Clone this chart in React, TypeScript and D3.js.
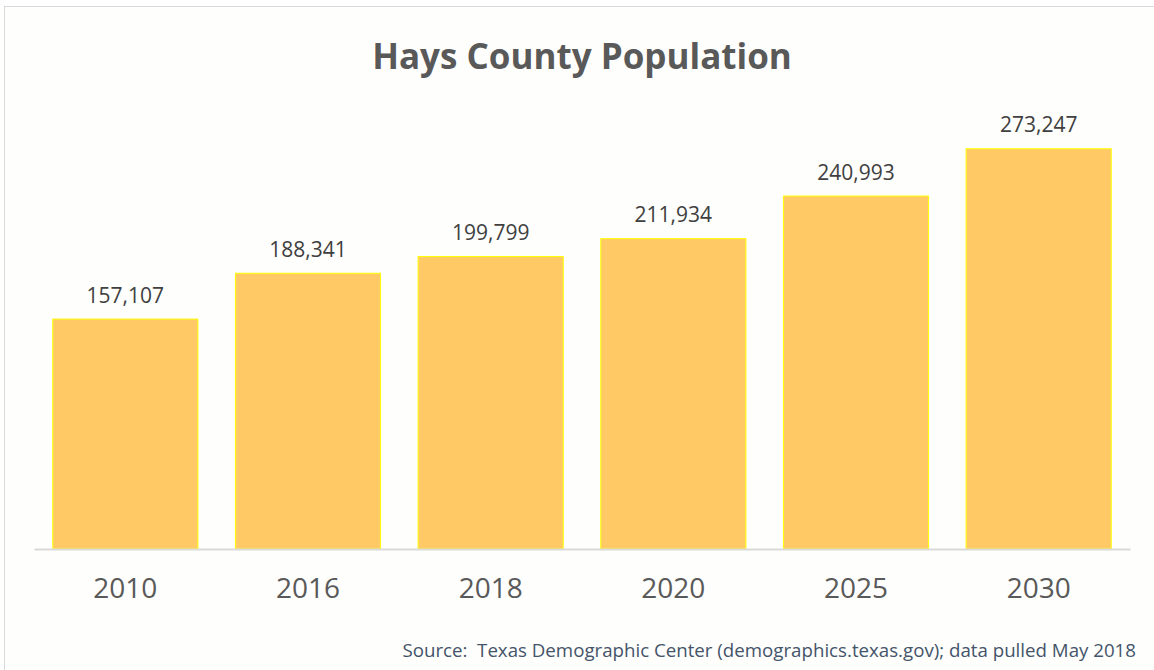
import React, { useRef, useEffect } from 'react';
import * as d3 from 'd3';

const years: string[] = ['2010', '2016', '2018', '2020', '2025', '2030'];
const population: number[] = [157107, 188341, 199799, 211934, 240993, 273247];

const FONT = "'Open Sans', 'DejaVu Sans', sans-serif";

const App: React.FC = () => {
    const svgRef = useRef<SVGSVGElement | null>(null);

    useEffect(() => {
        if (!svgRef.current) return;
        const svg = d3.select(svgRef.current);
        svg.selectAll('*').remove();

        const width = 1154;
        const height = 670;

        // chart area background + frame
        svg.append('rect')
            .attr('x', 4.5).attr('y', 6.5)
            .attr('width', width + 10).attr('height', height + 10)
            .attr('fill', '#fefefc')
            .attr('stroke', '#d9d9d9')
            .attr('stroke-width', 1);

        const x = d3.scaleBand<string>()
            .domain(years)
            .range([34, 1130])
            .paddingInner(0.2)
            .paddingOuter(0.1);

        const y = d3.scaleLinear()
            .domain([0, 300000])
            .range([549, 109]);

        // title
        svg.append('text')
            .attr('x', 582).attr('y', 69)
            .attr('text-anchor', 'middle')
            .style('font-family', FONT)
            .style('font-weight', 'bold')
            .style('font-size', '35px')
            .style('fill', '#595959')
            .text('Hays County Population');

        // bars
        svg.selectAll('.bar')
            .data(population)
            .enter().append('rect')
            .attr('class', 'bar')
            .attr('x', (d, i) => (x(years[i]) as number) + 0.5)
            .attr('y', d => y(d) + 0.5)
            .attr('width', x.bandwidth() - 1)
            .attr('height', d => y(0) - y(d) - 0.5)
            .attr('fill', '#ffc966')
            .attr('stroke', '#ffff00')
            .attr('stroke-width', 1);

        // value labels
        svg.selectAll('.lbl')
            .data(population)
            .enter().append('text')
            .attr('class', 'lbl')
            .attr('x', (d, i) => (x(years[i]) as number) + x.bandwidth() / 2)
            .attr('y', d => y(d) - 16)
            .attr('text-anchor', 'middle')
            .style('font-family', FONT)
            .style('font-size', '21px')
            .style('fill', '#404040')
            .text(d => d3.format(',')(d));

        // x axis
        const axis = svg.append('g')
            .attr('transform', `translate(0,${y(0)})`)
            .call(d3.axisBottom(x).tickSize(0).tickPadding(29));
        axis.select('.domain')
            .attr('stroke', '#d9d9d9')
            .attr('stroke-width', 2);
        axis.selectAll('text')
            .style('font-family', FONT)
            .style('font-size', '28px')
            .style('fill', '#595959');

        // source note
        svg.append('text')
            .attr('x', 1136).attr('y', 657)
            .attr('text-anchor', 'end')
            .style('font-family', FONT)
            .style('font-size', '18.7px')
            .style('white-space', 'pre')
            .style('fill', '#44546a')
            .text('Source:  Texas Demographic Center (demographics.texas.gov); data pulled May 2018');
    }, []);

    return (
        <svg ref={svgRef} width={1154} height={670}
            style={{ position: 'absolute', left: 0, top: 0, background: '#ffffff' }} />
    );
};

export default App;
